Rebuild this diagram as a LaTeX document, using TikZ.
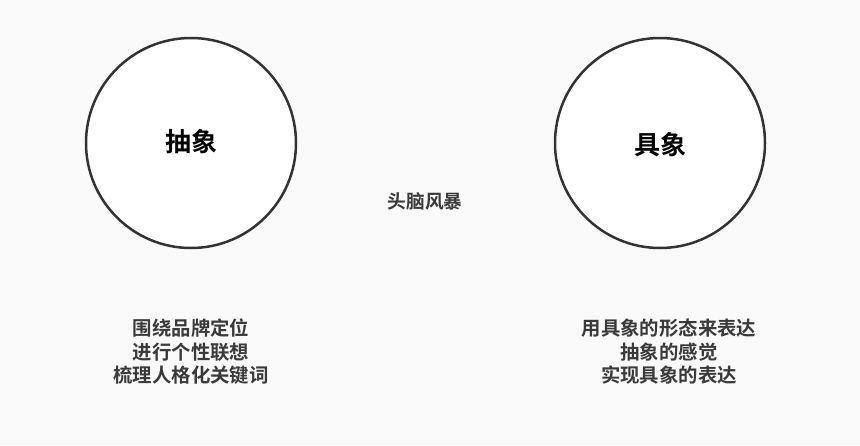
\documentclass[tikz,border=0pt]{standalone}
\usepackage{fontspec}
\newfontfamily\cjk{Noto Sans CJK SC}[BoldFont={Noto Sans CJK SC Bold}]
\definecolor{bg}{HTML}{F9F9F9}
\definecolor{ink}{HTML}{333333}
\definecolor{txt}{HTML}{3A3A3A}
\begin{document}
\begin{tikzpicture}[x=1pt,y=-1pt,
  circ/.style={circle,draw=ink,line width=2.5pt,fill=white,minimum size=210pt,inner sep=0pt},
  title/.style={font=\cjk\bfseries\fontsize{26}{30}\selectfont,text=black},
  desc/.style={font=\cjk\bfseries\fontsize{19.4}{23.5}\selectfont,text=txt,align=center},
  midtxt/.style={font=\cjk\bfseries\fontsize{18.7}{23}\selectfont,text=txt}]
\fill[bg] (0,0) rectangle (860,445);
\useasboundingbox (0,0) rectangle (860,445);
\node[circ] (L) at (191,143) {};
\node[circ] (R) at (660,143) {};
\node[title] (Lt) at (191,142) {抽象};
\node[title] (Rt) at (660,145) {具象};
\node[midtxt] (mid) at (425,201) {头脑风暴};
\node[desc] (Ld) at (191,352) {围绕品牌定位\\进行个性联想\\梳理人格化关键词};
\node[desc] (Rd) at (669,352) {用具象的形态来表达\\抽象的感觉\\实现具象的表达};
\end{tikzpicture}
\end{document}
